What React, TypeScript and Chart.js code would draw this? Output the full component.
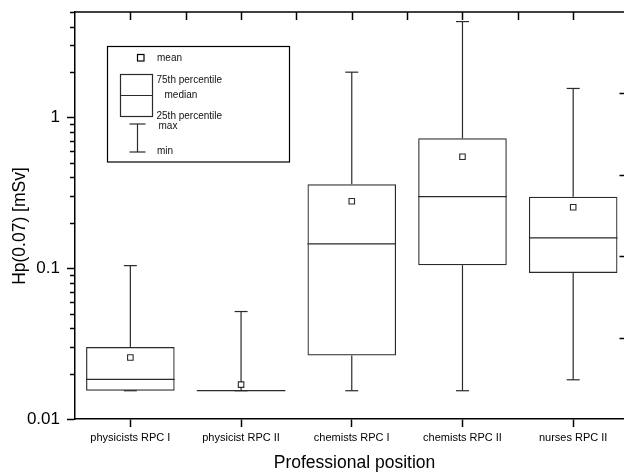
import { useEffect, useRef } from "react";
import { Chart, registerables } from "chart.js";

Chart.register(...registerables);

// ---- data ----
const categories = [
  "physicists RPC I",
  "physicist RPC II",
  "chemists RPC I",
  "chemists RPC II",
  "nurses RPC II",
];
const minV = [0.0154, 0.0154, 0.0154, 0.0154, 0.0182];
const q1 = [0.0154, 0.0154, 0.0264, 0.1047, 0.093];
const median = [0.0183, 0.0154, 0.145, 0.298, 0.159];
const q3 = [0.03, 0.0154, 0.36, 0.726, 0.298];
const maxV = [0.104, 0.0516, 1.995, 4.32, 1.556];
const mean = [0.0256, 0.0169, 0.278, 0.548, 0.2535];
const yMajorTicks = [0.01, 0.1, 1];
const yMinorMultipliers = [2, 3, 4, 5, 6, 7, 8, 9];
const rightAxisTicks = [1, 2, 3, 4];
const topTickSteps = [0, 0.5, 1, 1.5, 2, 2.5, 3, 3.5, 4];
const legendLabels = ["mean", "75th percentile", "median", "25th percentile", "max", "min"];
const yTitle = "Hp(0.07) [mSv]";
const xTitle = "Professional position";

const FONT = '"Liberation Sans", Arial, Helvetica, sans-serif';
const LINE = "#2a2a2a";

export default function App() {
  const ref = useRef<HTMLCanvasElement>(null);

  useEffect(() => {
    const canvas = ref.current!;

    const line = (ctx: CanvasRenderingContext2D, x1: number, y1: number, x2: number, y2: number) => {
      ctx.beginPath();
      ctx.moveTo(x1, y1);
      ctx.lineTo(x2, y2);
      ctx.stroke();
    };

    const boxPlugin = {
      id: "boxWhiskers",
      beforeDatasetsDraw(chart: any) {
        const ctx = chart.ctx as CanvasRenderingContext2D;
        const ys = chart.scales.y;
        const meta = chart.getDatasetMeta(1);
        const capHalf = 6.5;
        ctx.save();
        ctx.strokeStyle = LINE;
        ctx.lineWidth = 1.2;
        categories.forEach((_, i) => {
          const bar = meta.data[i] as any;
          const x = bar.x;
          const hw = bar.width / 2;
          const ym = ys.getPixelForValue(median[i]);
          line(ctx, x - hw, ym, x + hw, ym);
          const yq3 = ys.getPixelForValue(q3[i]);
          const yMax = ys.getPixelForValue(maxV[i]);
          line(ctx, x, yq3, x, yMax);
          line(ctx, x - capHalf, yMax, x + capHalf, yMax);
          const yq1 = ys.getPixelForValue(q1[i]);
          const yMin = ys.getPixelForValue(minV[i]);
          line(ctx, x, yq1, x, yMin);
          line(ctx, x - capHalf, yMin, x + capHalf, yMin);
        });
        ctx.restore();
      },
      afterDraw(chart: any) {
        const ctx = chart.ctx as CanvasRenderingContext2D;
        const { left, right, top, bottom } = chart.chartArea;
        const xs = chart.scales.x;
        const ys = chart.scales.y;
        const y2 = chart.scales.y2;
        ctx.save();
        ctx.strokeStyle = "#000";
        ctx.lineWidth = 1.5;
        // minor y ticks
        yMajorTicks.forEach((d) => {
          yMinorMultipliers.forEach((m) => {
            const v = d * m;
            if (v > ys.max) return;
            const py = Math.round(ys.getPixelForValue(v)) + 0.5;
            line(ctx, left - 5, py, left, py);
          });
        });
        // top frame with inward ticks
        line(ctx, left - 0.75, top, right, top);
        topTickSteps.forEach((v) => {
          const px = Math.round(xs.getPixelForValue(v)) + 0.5;
          line(ctx, px, top, px, top + 8);
        });
        // right-side axis ticks
        rightAxisTicks.forEach((v) => {
          const py = Math.round(y2.getPixelForValue(v)) + 0.5;
          line(ctx, right - 4.5, py, right, py);
        });

        // axis titles
        ctx.fillStyle = "#000";
        ctx.font = `17.5px ${FONT}`;
        ctx.textAlign = "center";
        ctx.textBaseline = "alphabetic";
        ctx.fillText(xTitle, (left + right) / 2 + 5, 468);
        ctx.save();
        ctx.translate(25, (top + bottom) / 2 + 10.5);
        ctx.rotate(-Math.PI / 2);
        ctx.fillText(yTitle, 0, 0);
        ctx.restore();

        // legend
        ctx.lineWidth = 1.2;
        ctx.strokeStyle = "#000";
        ctx.strokeRect(107.5, 46.5, 182, 115.5);
        ctx.strokeRect(137.5, 54.5, 6.5, 6.5);
        ctx.strokeStyle = LINE;
        ctx.strokeRect(120.5, 74.5, 32, 42);
        line(ctx, 120.5, 95.5, 152.5, 95.5);
        line(ctx, 137.5, 124, 137.5, 152);
        line(ctx, 129.5, 124, 145.5, 124);
        line(ctx, 129.5, 152, 145.5, 152);
        ctx.fillStyle = "#111";
        ctx.font = `10px ${FONT}`;
        ctx.textAlign = "left";
        ctx.textBaseline = "middle";
        const pos: [number, number][] = [
          [157, 58],
          [156.5, 80],
          [164.5, 95],
          [156.5, 116.5],
          [158.5, 126.5],
          [157, 151],
        ];
        legendLabels.forEach((t, i) => ctx.fillText(t, pos[i][0], pos[i][1]));
        ctx.restore();
      },
    };

    const chart = new Chart(canvas, {
      type: "bar",
      data: {
        datasets: [
          {
            type: "line",
            label: "mean",
            order: 0,
            showLine: false,
            data: categories.map((_, i) => ({ x: i, y: mean[i] })),
            pointStyle: "rect",
            pointRadius: 3.9,
            pointBackgroundColor: "#fff",
            pointBorderColor: LINE,
            pointBorderWidth: 1.1,
          } as any,
          {
            type: "bar",
            label: "box",
            order: 1,
            data: categories.map((_, i) => ({ x: i, y: [q1[i], q3[i]] })) as any,
            backgroundColor: "rgba(255,255,255,0)",
            borderColor: LINE,
            borderWidth: 1.2,
            borderSkipped: false,
            barPercentage: 0.8,
            categoryPercentage: 1,
          } as any,
        ],
      },
      options: {
        responsive: false,
        animation: false,
        events: [],
        layout: { autoPadding: false, padding: { top: 12, right: 0, left: 0, bottom: 0 } },
        plugins: { legend: { display: false }, tooltip: { enabled: false } },
        scales: {
          x: {
            type: "linear",
            offset: false,
            min: -0.5,
            max: 4.459,
            afterFit: (s: any) => {
              s.height = 55;
              s.paddingLeft = 0;
              s.paddingRight = 0;
            },
            afterBuildTicks: (s: any) => {
              s.ticks = categories.map((_, i) => ({ value: i }));
            },
            ticks: {
              callback: (v: any) => categories[v] ?? "",
              font: { family: FONT, size: 11 },
              color: "#000",
              padding: 4,
              maxRotation: 0,
              autoSkip: false,
            },
            grid: {
              display: true,
              offset: false,
              drawOnChartArea: false,
              drawTicks: true,
              tickLength: 8,
              tickColor: "#000",
              tickWidth: 1.5,
            },
            border: { display: true, color: "#000", width: 1.5 },
          },
          y: {
            type: "logarithmic",
            min: 0.01,
            max: 5,
            afterFit: (s: any) => {
              s.width = 75;
              s.paddingTop = 0;
              s.paddingBottom = 0;
            },
            afterBuildTicks: (s: any) => {
              s.ticks = yMajorTicks.map((v) => ({ value: v }));
            },
            ticks: {
              callback: (v: any) => String(v),
              font: { family: FONT, size: 17 },
              color: "#000",
              padding: 7,
              autoSkip: false,
            },
            grid: {
              display: true,
              drawOnChartArea: false,
              drawTicks: true,
              tickLength: 8,
              tickColor: "#000",
              tickWidth: 1.5,
            },
            border: { display: true, color: "#000", width: 1.5 },
          },
          y2: {
            type: "linear",
            display: false,
            min: 0,
            max: 5,
          },
        },
      } as any,
      plugins: [boxPlugin],
    });

    return () => chart.destroy();
  }, []);

  return (
    <div style={{ position: "fixed", left: 0, top: 0, width: 624, height: 474, background: "#fff" }}>
      <canvas ref={ref} width={624} height={474} style={{ width: 624, height: 474, display: "block" }} />
    </div>
  );
}
